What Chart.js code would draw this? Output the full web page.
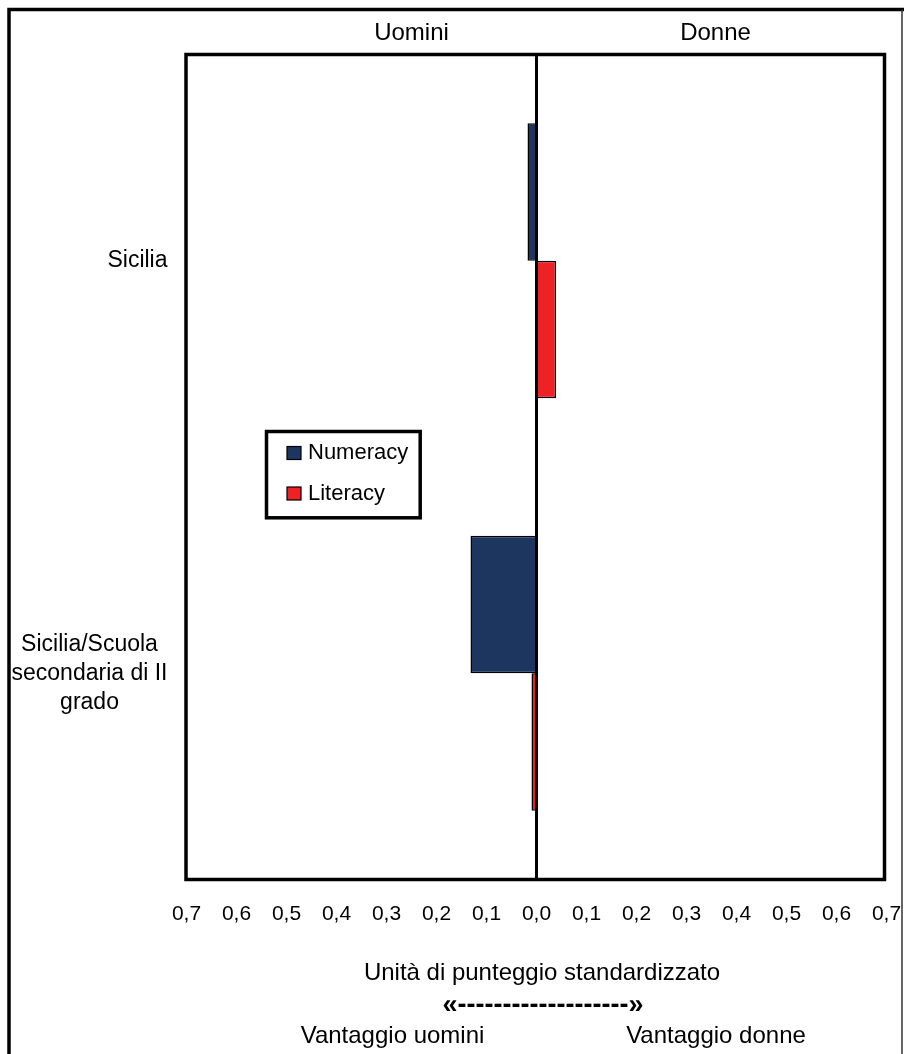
<!DOCTYPE html>
<html><head><meta charset="utf-8">
<script src="https://cdn.jsdelivr.net/npm/chart.js@4.4.1/dist/chart.umd.min.js"></script>
<style>html,body{margin:0;padding:0;background:#fff}canvas{display:block}</style>
</head><body>
<canvas id="c" width="904" height="1054"></canvas>
<script>
// ---- data ----
const categories = ['Sicilia', ['Sicilia/Scuola', 'secondaria di II', 'grado']];
const seriesNames = ['Numeracy', 'Literacy'];
const numeracy = [-0.018, -0.132];
const literacy = [0.039, -0.010];
const tickValues = [-0.7, -0.6, -0.5, -0.4, -0.3, -0.2, -0.1, 0, 0.1, 0.2, 0.3, 0.4, 0.5, 0.6, 0.7];
const tickLabels = ['0,7', '0,6', '0,5', '0,4', '0,3', '0,2', '0,1', '0,0', '0,1', '0,2', '0,3', '0,4', '0,5', '0,6', '0,7'];
const sideLabels = ['Uomini', 'Donne'];
const sideLabelValues = [-0.25, 0.358];
const axisTitle = 'Unità di punteggio standardizzato';
const arrowText = '«-------------------»';
const advantageLabels = ['Vantaggio uomini', 'Vantaggio donne'];

// ---- styles ----
const FONT = '"Liberation Sans", Arial, sans-serif';
const colors = ['#1c365f', '#ee2224'];

const decor = {
  id: 'decor',
  beforeDraw(chart) {
    const ctx = chart.ctx;
    ctx.save();
    ctx.fillStyle = '#fff';
    ctx.fillRect(0, 0, chart.width, chart.height);
    ctx.strokeStyle = '#000';
    ctx.lineWidth = 3.5;
    ctx.beginPath();
    ctx.moveTo(9, chart.height + 5);
    ctx.lineTo(9, 9.5);
    ctx.lineTo(chart.width + 5, 9.5);
    ctx.stroke();
    ctx.lineWidth = 1.5;
    ctx.strokeStyle = '#333';
    ctx.beginPath();
    ctx.moveTo(902, 9.5);
    ctx.lineTo(902, chart.height + 5);
    ctx.stroke();
    ctx.restore();
  },
  afterDatasetsDraw(chart) {
    const ctx = chart.ctx, a = chart.chartArea, xs = chart.scales.x, ys = chart.scales.y;
    ctx.save();
    ctx.strokeStyle = '#000';
    // zero line
    ctx.lineWidth = 3;
    const x0 = xs.getPixelForValue(0);
    ctx.beginPath();
    ctx.moveTo(x0, a.top);
    ctx.lineTo(x0, a.bottom);
    ctx.stroke();
    // plot border
    ctx.lineWidth = 3.5;
    ctx.strokeRect(a.left - 0.5, a.top, a.right - a.left - 1.5, a.bottom - a.top);

    ctx.fillStyle = '#000';
    ctx.textBaseline = 'middle';
    // x tick labels
    ctx.font = '21px ' + FONT;
    ctx.textAlign = 'center';
    tickValues.forEach((v, i) => ctx.fillText(tickLabels[i], xs.getPixelForValue(v), a.bottom + 35));
    // category labels
    ctx.font = '23px ' + FONT;
    const rightEdge = a.left - 19;
    categories.forEach((c, i) => {
      const y = ys.getPixelForValue(i);
      const lines = Array.isArray(c) ? c : [c];
      const maxW = Math.max(...lines.map(l => ctx.measureText(l).width));
      const lh = 29;
      lines.forEach((l, j) => {
        const ly = y + (j - (lines.length - 1) / 2) * lh;
        if (lines.length === 1) {
          ctx.textAlign = 'right';
          ctx.fillText(l, rightEdge, ly);
        } else {
          ctx.textAlign = 'center';
          ctx.fillText(l, rightEdge - maxW / 2, ly);
        }
      });
    });
    // side labels
    ctx.font = '24px ' + FONT;
    ctx.textAlign = 'center';
    sideLabels.forEach((t, i) => ctx.fillText(t, xs.getPixelForValue(sideLabelValues[i]), 33.5));
    // bottom texts
    ctx.fillText(axisTitle, 542, 973.5);
    ctx.fillText(advantageLabels[0], 392.5, 1036.5);
    ctx.fillText(advantageLabels[1], 716, 1036.5);
    ctx.font = 'bold 27px ' + FONT;
    ctx.fillText(arrowText, 543, 1006);

    // legend
    const lx = 266.5, ly = 431.5, lw = 153.7, lhh = 86.3;
    ctx.fillStyle = '#fff';
    ctx.fillRect(lx, ly, lw, lhh);
    ctx.lineWidth = 3.5;
    ctx.strokeStyle = '#000';
    ctx.strokeRect(lx, ly, lw, lhh);
    ctx.font = '22px ' + FONT;
    ctx.textAlign = 'left';
    chart.data.datasets.forEach((ds, i) => {
      const cy = 453 + i * 40.5;
      ctx.fillStyle = ds.backgroundColor;
      ctx.fillRect(287, cy - 6.5, 14, 13);
      ctx.lineWidth = 1.2;
      ctx.strokeStyle = '#000';
      ctx.strokeRect(287, cy - 6.5, 14, 13);
      ctx.fillStyle = '#000';
      ctx.fillText(ds.label, 308, cy);
    });
    ctx.restore();
  }
};

new Chart(document.getElementById('c'), {
  type: 'bar',
  data: {
    labels: categories,
    datasets: [
      { label: seriesNames[0], data: numeracy, backgroundColor: colors[0], borderColor: '#000', borderWidth: 1.5, borderSkipped: false },
      { label: seriesNames[1], data: literacy, backgroundColor: colors[1], borderColor: '#000', borderWidth: 1.5, borderSkipped: false }
    ]
  },
  options: {
    indexAxis: 'y',
    responsive: false,
    animation: false,
    devicePixelRatio: 1,
    layout: { padding: { left: 186.5, right: 17.5, top: 54.5, bottom: 174.5 } },
    plugins: { legend: { display: false }, tooltip: { enabled: false } },
    datasets: { bar: { categoryPercentage: 0.667, barPercentage: 1.0 } },
    scales: {
      x: { type: 'linear', min: -0.7, max: 0.7, display: false },
      y: { type: 'category', display: false }
    }
  },
  plugins: [decor]
});
</script>
</body></html>
